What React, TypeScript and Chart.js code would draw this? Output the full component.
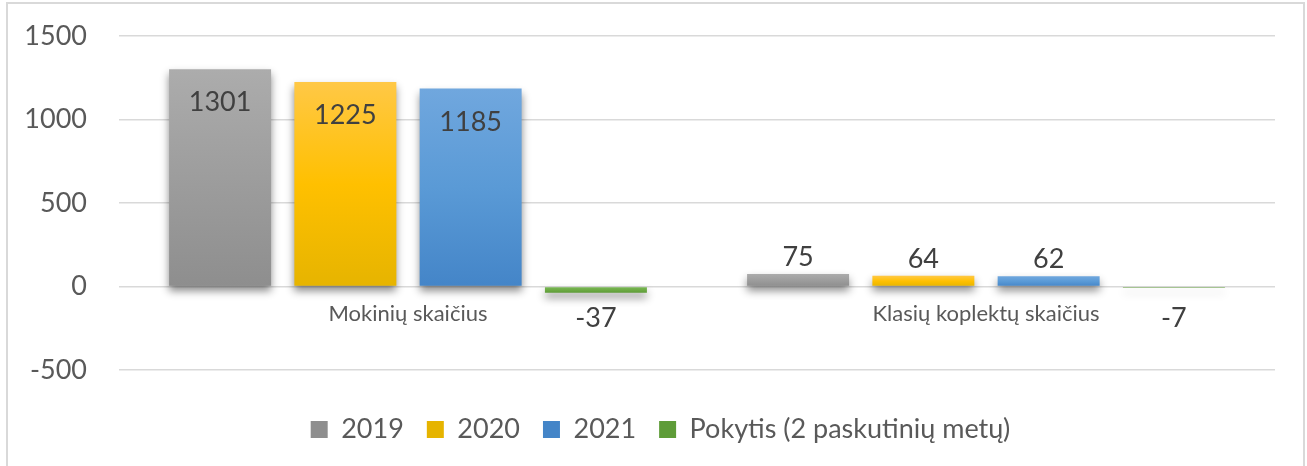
import React, { useEffect, useRef } from 'react';
import { Chart, registerables } from 'chart.js';

Chart.register(...registerables);

// ---- data ----
const categories = ['Mokinių skaičius', 'Klasių koplektų skaičius'];
const seriesNames = ['2019', '2020', '2021', 'Pokytis (2 paskutinių metų)'];
const values2019 = [1301, 75];
const values2020 = [1225, 64];
const values2021 = [1185, 62];
const valuesChange = [-37, -7];
const yTicks = [-500, 0, 500, 1000, 1500];

// ---- styles ----
const FONT = 'Lato, "Open Sans", sans-serif';
const gradStops: Array<Array<[number, string]>> = [
  [[0, '#acacac'], [1, '#8e8e8e']],
  [[0, '#ffc846'], [0.5, '#ffc000'], [1, '#e6b400']],
  [[0, '#70a7de'], [0.5, '#5a9ad6'], [1, '#4485c8']],
  [[0, '#7cba5a'], [0.5, '#6eac46'], [1, '#5e9c38']],
];
const solid = ['#a5a5a5', '#ffc000', '#5b9bd5', '#70ad47'];

function makeBg(si: number) {
  return (ctx: any) => {
    const chart = ctx.chart;
    if (ctx.type !== 'data' || !chart.chartArea || !ctx.parsed) return solid[si];
    const ys = chart.scales.y;
    const v = ctx.parsed.y;
    const top = ys.getPixelForValue(Math.max(v, 0));
    const bot = ys.getPixelForValue(Math.min(v, 0));
    if (!isFinite(top) || !isFinite(bot) || Math.abs(bot - top) < 0.5) return solid[si];
    const g = chart.ctx.createLinearGradient(0, top, 0, bot);
    gradStops[si].forEach(([o, c]) => g.addColorStop(o, c));
    return g;
  };
}

const barDecor = {
  id: 'barDecor',
  beforeDatasetsDraw(chart: any) {
    const c = chart.ctx;
    c.save();
    c.shadowColor = 'rgba(0,0,0,0.45)';
    c.shadowBlur = 8;
    c.shadowOffsetX = 0;
    c.shadowOffsetY = 5;
  },
  afterDatasetsDraw(chart: any) {
    const c = chart.ctx;
    c.restore();
    const zero = chart.scales.y.getPixelForValue(0);
    c.save();
    c.font = `27px ${FONT}`;
    c.fillStyle = '#404040';
    c.textAlign = 'center';
    c.textBaseline = 'alphabetic';
    chart.data.datasets.forEach((ds: any, di: number) => {
      const meta = chart.getDatasetMeta(di);
      meta.data.forEach((el: any, i: number) => {
        const v = ds.data[i] as number;
        let cy: number;
        if (v >= 0) {
          cy = el.base - el.y > 60 ? el.y + 32 : el.y - 18;
        } else {
          cy = Math.max(el.y + 24, zero + 30);
        }
        c.fillText(String(v), el.x, cy + 10);
      });
    });
    c.restore();
  },
};

export default function App() {
  const ref = useRef<HTMLCanvasElement | null>(null);

  useEffect(() => {
    if (!ref.current) return;
    const seriesData = [values2019, values2020, values2021, valuesChange];
    const chart = new Chart(ref.current, {
      type: 'bar',
      data: {
        labels: categories,
        datasets: seriesNames.map((name, si) => ({
          label: name,
          data: seriesData[si],
          backgroundColor: makeBg(si),
          borderWidth: 0,
          categoryPercentage: 0.867,
          barPercentage: 0.814,
          yAxisID: 'y',
        })),
      },
      options: {
        responsive: false,
        animation: false,
        layout: { padding: { left: 14, right: 0, top: 36, bottom: 13 } },
        plugins: {
          tooltip: { enabled: false },
          legend: {
            position: 'bottom',
            title: { display: true, text: '', padding: { top: 13, bottom: 0 }, font: { size: 10, lineHeight: 1 } },
            labels: {
              boxWidth: 17,
              boxHeight: 17,
              padding: 23,
              color: '#595959',
              font: { family: FONT, size: 27 },
            },
          },
        },
        scales: {
          x: {
            type: 'category',
            position: { y: 0 } as any,
            grid: { display: false, drawTicks: false },
            border: { display: false },
            ticks: { color: '#595959', font: { family: FONT, size: 22 }, padding: 14, maxRotation: 0 },
            afterFit: (s: any) => { s.height = 0; },
          },
          y: {
            position: 'left',
            min: yTicks[0],
            max: yTicks[yTicks.length - 1],
            ticks: {
              stepSize: yTicks[1] - yTicks[0],
              color: '#595959',
              font: { family: FONT, size: 27 },
              padding: 0,
              callback: (v: any) => String(v),
            },
            grid: {
              color: '#d9d9d9',
              lineWidth: 1.5,
              drawTicks: true,
              tickLength: 32,
              tickColor: 'rgba(0,0,0,0)',
            },
            border: { display: false },
            afterFit: (s: any) => { s.width = 105; },
          },
          yRight: {
            position: 'right',
            display: true,
            min: yTicks[0],
            max: yTicks[yTicks.length - 1],
            grid: { display: false, drawTicks: false },
            border: { display: false },
            ticks: { display: false },
            afterFit: (s: any) => { s.width = 32; },
          },
        },
      },
      plugins: [barDecor],
    });
    return () => chart.destroy();
  }, []);

  return (
    <div style={{ position: 'fixed', left: 0, top: 0, width: 1307, height: 466, background: '#fff', overflow: 'hidden' }}>
      <div
        style={{
          position: 'absolute',
          left: 6,
          top: 2,
          width: 1299,
          height: 480,
          boxSizing: 'border-box',
          border: '2px solid #d9d9d9',
          borderBottom: 'none',
        }}
      />
      <canvas ref={ref} width={1307} height={466} style={{ position: 'absolute', left: 0, top: 0, display: 'block' }} />
    </div>
  );
}
